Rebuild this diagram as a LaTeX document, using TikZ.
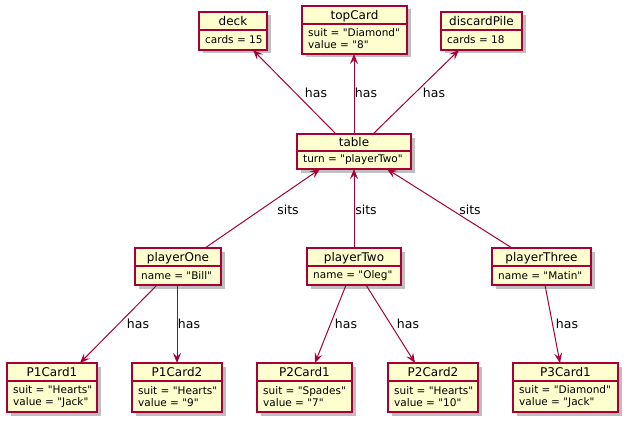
\documentclass[tikz,border=0pt]{standalone}
\usepackage{fontspec}
\setmainfont{DejaVu Sans}[Ligatures=TeXOff]
\usetikzlibrary{arrows.meta,shadows}
\definecolor{umlfill}{HTML}{FEFECE}
\definecolor{umlred}{HTML}{A80036}
\newcommand\dq{\symbol{34}}
\tikzset{
 objbox/.style={draw=umlred, fill=umlfill, line width=1.5pt, inner sep=0pt, outer sep=0pt,
   drop shadow={shadow xshift=3.5pt, shadow yshift=-3.5pt, opacity=0.25, fill=black}},
 divline/.style={draw=umlred, line width=1.5pt},
 titletext/.style={font=\fontsize{12}{14}\selectfont, inner sep=0pt, text height=10pt, text depth=1.2pt},
 attrtext/.style={font=\fontsize{10.5}{12}\selectfont, inner sep=0pt, align=left, anchor=west},
 rel/.style={draw=umlred, line width=1pt, -{Stealth[length=10pt,width=8pt,inset=4pt]}},
 rellabel/.style={font=\fontsize{12.5}{14}\selectfont, inner sep=0pt},
}
% name, x1, y1, x2, y2, ydiv, title, body
\newcommand\umlobj[8]{%
 \node[objbox, minimum width={#4-#2}, minimum height={#5-#3}] (#1) at ({(#2+#4)/2},{(#3+#5)/2}) {};
 \draw[divline] (#2,#6) -- (#4,#6);
 \node[titletext] (#1-t) at ({(#2+#4)/2},{(#3+#6)/2}) {#7};
 \node[attrtext] (#1-b) at ({#2+6},{(#6+#5)/2}) {#8};
}
\begin{document}
\begin{tikzpicture}[x=1pt,y=-1pt]
\useasboundingbox (0,0) rectangle (631,425);
\umlobj{deck}{199}{12}{267}{50}{30}{deck}{cards = 15}
\umlobj{topCard}{302}{6}{407}{54}{24}{topCard}{suit = \dq Diamond\dq\\value = \dq 8\dq}
\umlobj{discardPile}{441}{12}{522}{50}{30}{discardPile}{cards = 18}
\umlobj{table}{297}{134}{411}{169}{151}{table}{turn = \dq playerTwo\dq}
\umlobj{playerOne}{135}{248}{221}{285}{266}{playerOne}{name = \dq Bill\dq}
\umlobj{playerTwo}{307}{248}{401}{285}{266}{playerTwo}{name = \dq Oleg\dq}
\umlobj{playerThree}{492}{248}{591}{285}{266}{playerThree}{name = \dq Matin\dq}
\umlobj{P1Card1}{7}{363}{97}{412}{381}{P1Card1}{suit = \dq Hearts\dq\\value = \dq Jack\dq}
\umlobj{P1Card2}{132}{363}{222}{412}{381}{P1Card2}{suit = \dq Hearts\dq\\value = \dq 9\dq}
\umlobj{P2Card1}{257}{363}{352}{412}{381}{P2Card1}{suit = \dq Spades\dq\\value = \dq 7\dq}
\umlobj{P2Card2}{388}{363}{478}{412}{381}{P2Card2}{suit = \dq Hearts\dq\\value = \dq 10\dq}
\umlobj{P3Card1}{513}{363}{618}{412}{381}{P3Card1}{suit = \dq Diamond\dq\\value = \dq Jack\dq}

\draw[rel] ([xshift=-18pt]table.north) -- ([xshift=20pt]deck.south);
\draw[rel] ([xshift=0pt]table.north) -- ([xshift=-0.5pt]topCard.south);
\draw[rel] ([xshift=19pt]table.north) -- ([xshift=-22.5pt]discardPile.south);
\draw[rel] ([xshift=27pt]playerOne.north) -- ([xshift=-34pt]table.south);
\draw[rel] ([xshift=0pt]playerTwo.north) -- ([xshift=0pt]table.south);
\draw[rel] ([xshift=-29.5pt]playerThree.north) -- ([xshift=33pt]table.south);
\draw[rel] ([xshift=-21pt]playerOne.south) -- ([xshift=28pt]P1Card1.north);
\draw[rel] ([xshift=-1pt]playerOne.south) -- ([xshift=0pt]P1Card2.north);
\draw[rel] ([xshift=-8pt]playerTwo.south) -- ([xshift=10.5pt]P2Card1.north);
\draw[rel] ([xshift=12pt]playerTwo.south) -- ([xshift=-18pt]P2Card2.north);
\draw[rel] ([xshift=3.5pt]playerThree.south) -- ([xshift=-5.5pt]P3Card1.north);

\node[rellabel] (h1) at (316,93) {has};
\node[rellabel] (h2) at (366,93) {has};
\node[rellabel] (h3) at (434,93) {has};
\node[rellabel] (s1) at (288,210) {sits};
\node[rellabel] (s2) at (366,210) {sits};
\node[rellabel] (s3) at (470,210) {sits};
\node[rellabel] (h4) at (138,324) {has};
\node[rellabel] (h5) at (189,324) {has};
\node[rellabel] (h6) at (346,324) {has};
\node[rellabel] (h7) at (408,324) {has};
\node[rellabel] (h8) at (567,324) {has};
\end{tikzpicture}
\end{document}
